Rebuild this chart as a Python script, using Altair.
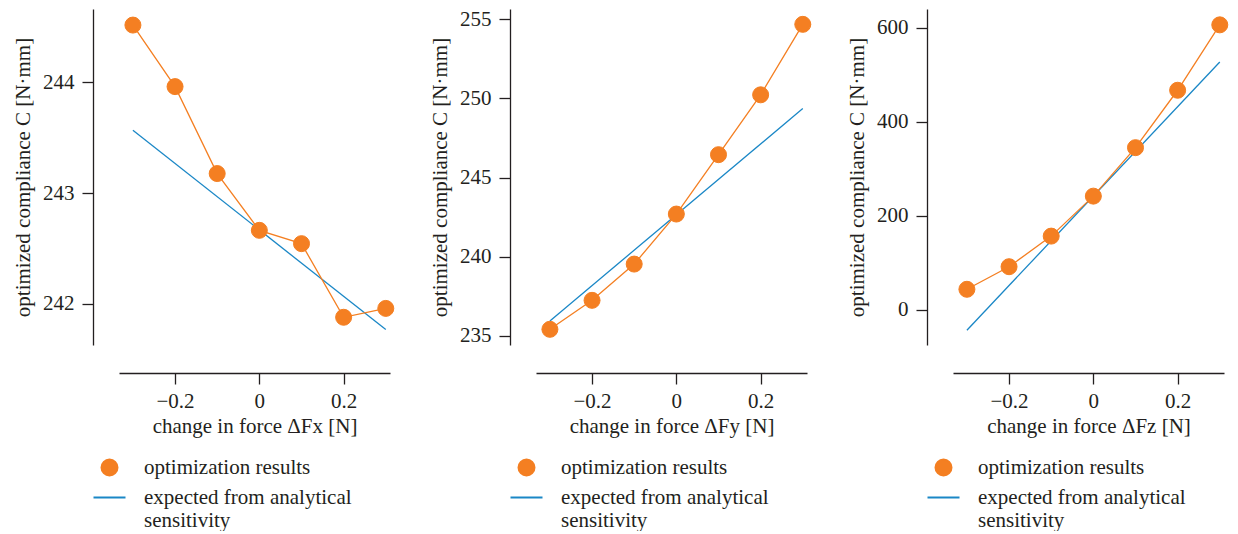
import altair as alt
import pandas as pd

# ---- data ----
dF = [-0.3, -0.2, -0.1, 0.0, 0.1, 0.2, 0.3]
C_x = [244.515, 243.96, 243.176, 242.664, 242.544, 241.88, 241.96]
C_y = [235.42, 237.25, 239.54, 242.70, 246.45, 250.23, 254.68]
C_z = [44, 92, 157, 242, 345, 467, 606]

ana_dF = [-0.3, 0.3]
ana_x = [243.567, 241.769]
ana_y = [235.95, 249.36]
ana_z = [-43, 527]

y_domains = [[241.63, 244.66], [234.43, 255.65], [-74.4, 639.7]]
y_ticks = [[242, 243, 244], [235, 240, 245, 250, 255], [0, 200, 400, 600]]
x_titles = ["change in force ΔFx [N]", "change in force ΔFy [N]", "change in force ΔFz [N]"]
x_ticks = [-0.2, 0, 0.2]
x_domain = [-0.333, 0.31]
y_title = "optimized compliance C [N·mm]"
series = ["optimization results", "expected from analytical sensitivity"]

ORANGE = "#F47F22"
BLUE = "#1A87C6"
TEXT = "#231F20"
FONT = "Liberation Serif"
FS = 21


def panel(C, ana, ydom, yticks, xtitle):
    opt = pd.DataFrame({"dF": dF, "C": C, "series": series[0]})
    an = pd.DataFrame({"dF": ana_dF, "C": ana, "series": series[1]})
    x = alt.X("dF:Q", scale=alt.Scale(domain=x_domain, nice=False, zero=False),
              axis=alt.Axis(values=x_ticks, format="~g", title=xtitle, offset=28,
                            labelPadding=6, titlePadding=4))
    y = alt.Y("C:Q", scale=alt.Scale(domain=ydom, nice=False, zero=False),
              axis=alt.Axis(values=yticks, title=y_title, offset=26,
                            labelPadding=8, titlePadding=9))
    leg = alt.Legend(orient="none", legendX=-20, legendY=448, title=None,
                     labelFont=FONT, labelFontSize=FS, labelColor=TEXT,
                     symbolSize=256, symbolStrokeWidth=2, labelOffset=24,
                     padding=0, rowPadding=6, labelLimit=400,
                     labelExpr="datum.label == 'expected from analytical sensitivity' ? "
                               "['expected from analytical', 'sensitivity'] : datum.label")
    blue = alt.Chart(an).mark_line(color=BLUE, strokeWidth=1.3).encode(x=x, y=y)
    oline = alt.Chart(opt).mark_line(color=ORANGE, strokeWidth=1.3).encode(x=x, y=y)
    pts = alt.Chart(opt).mark_point(filled=True, size=256, strokeWidth=1, opacity=1).encode(
        x=x, y=y,
        fill=alt.Fill("series:N", scale=alt.Scale(domain=series, range=[ORANGE, BLUE]), legend=leg),
        stroke=alt.Stroke("series:N", scale=alt.Scale(domain=series, range=[ORANGE, BLUE]), legend=leg),
        shape=alt.Shape("series:N", scale=alt.Scale(domain=series, range=["circle", "M-2,0L2,0"]), legend=leg),
    )
    return alt.layer(blue, oline, pts).properties(width=271, height=336)


panels = [
    panel(C_x, ana_x, y_domains[0], y_ticks[0], x_titles[0]),
    panel(C_y, ana_y, y_domains[1], y_ticks[1], x_titles[1]),
    panel(C_z, ana_z, y_domains[2], y_ticks[2], x_titles[2]),
]

chart = alt.hconcat(*panels, spacing=146, bounds="flush").resolve_scale(
    y="independent", fill="independent", stroke="independent", shape="independent"
).resolve_legend(
    fill="independent", stroke="independent", shape="independent"
).properties(
    padding={"left": 4, "top": 0, "right": 0, "bottom": 0}
).configure_view(stroke=None).configure_axis(
    labelFont=FONT, labelFontSize=FS, labelColor=TEXT,
    titleFont=FONT, titleFontSize=FS, titleColor=TEXT, titleFontWeight="normal",
    domainColor=TEXT, tickColor=TEXT, domainWidth=1.3, tickWidth=1.3, tickSize=11,
    grid=False,
)

chart.save("out.html", embed_options={"renderer": "svg", "actions": False})
